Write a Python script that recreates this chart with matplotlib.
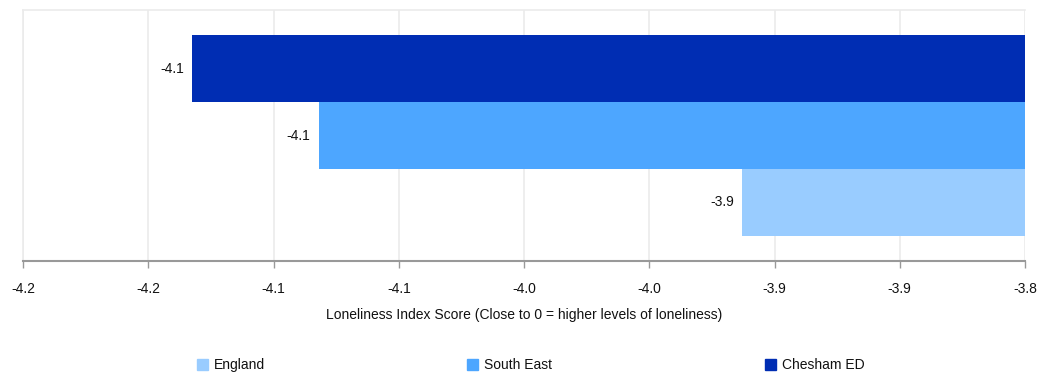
import numpy as np
from matplotlib import pyplot as plt

plt.rcParams["font.family"] = ["Liberation Sans", "DejaVu Sans"]

# Data
series = ["Chesham ED", "South East", "England"]
values = [-4.1325, -4.082, -3.913]
colors = ["#002db3", "#4da6ff", "#99ccff"]
base = -3.8

tick_values = [-4.2, -4.15, -4.1, -4.05, -4.0, -3.95, -3.9, -3.85, -3.8]
tick_labels = ["-4.2", "-4.2", "-4.1", "-4.1", "-4.0", "-4.0", "-3.9", "-3.9", "-3.8"]

W, H = 1037, 372
fig = plt.figure(figsize=(W / 100, H / 100), dpi=100)
ax = fig.add_axes([23 / W, (H - 261) / H, (1025 - 23) / W, (261 - 10) / H])

ypos = np.arange(len(series))
for y, v, c in zip(ypos, values, colors):
    ax.barh(y, v - base, left=base, height=1.0, color=c, zorder=3)
    ax.text(v - 0.0032, y, f"{v:.1f}", ha="right", va="center", fontsize=10, color="#111111")

ax.set_xlim(-4.2, -3.8)
ax.set_ylim(2.5 + 0.375, -0.5 - 0.375)
ax.set_xticks(tick_values)
ax.set_xticklabels(tick_labels, fontsize=10, color="#111111")
ax.set_yticks([])
ax.tick_params(axis="x", length=5, width=1, color="#999999", pad=10)

ax.grid(axis="x", color="#ebebeb", linewidth=1.2, zorder=0)
for side in ["left", "right", "top"]:
    ax.spines[side].set_color("#ebebeb")
    ax.spines[side].set_linewidth(1.2)
ax.spines["right"].set_visible(False)
ax.spines["bottom"].set_color("#999999")
ax.spines["bottom"].set_linewidth(1.5)

ax.set_xlabel("Loneliness Index Score (Close to 0 = higher levels of loneliness)",
              fontsize=10, color="#111111", labelpad=9)

# legend
legend_x = [197, 467, 765]
for name, c, lx in zip(["England", "South East", "Chesham ED"], colors[::-1], legend_x):
    fig.patches.append(plt.Rectangle((lx / W, (H - 370) / H), 11 / W, 11 / H,
                                     transform=fig.transFigure, color=c))
    fig.text((lx + 17) / W, (H - 365) / H, name, fontsize=10, va="center", color="#111111")

fig.savefig("out.png", dpi=100)
